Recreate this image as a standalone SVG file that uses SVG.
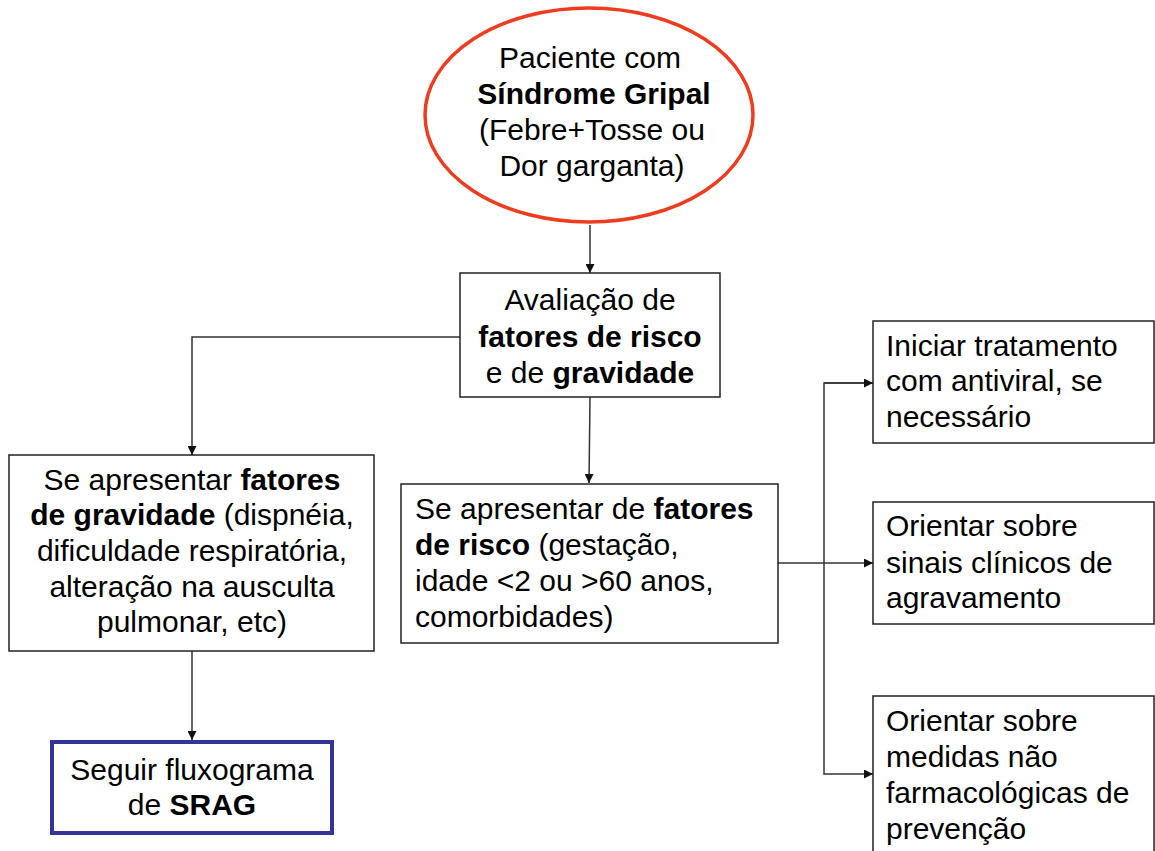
<svg xmlns="http://www.w3.org/2000/svg" width="1155" height="851" viewBox="0 0 1155 851">
<defs>
<style>
text{font-family:"Liberation Sans",Arial,sans-serif;font-size:30px;fill:#000}
.c{text-anchor:middle}
.b{font-weight:bold}
.box{fill:#fff;stroke:#222;stroke-width:1.5}
.con{fill:none;stroke:#333;stroke-width:1.5}
</style>
<marker id="ah" viewBox="0 0 10 10" refX="10" refY="5" markerWidth="9" markerHeight="9" markerUnits="userSpaceOnUse" orient="auto">
<path d="M0,0 L10,5 L0,10 z" fill="#111"/>
</marker>
</defs>
<rect width="1155" height="851" fill="#fff"/>
<g id="connectors">
<line class="con" x1="590" y1="225" x2="590" y2="273" marker-end="url(#ah)"/>
<polyline class="con" points="460,337 192,337 192,455" marker-end="url(#ah)"/>
<line class="con" x1="590" y1="397" x2="589" y2="483" marker-end="url(#ah)"/>
<line class="con" x1="192" y1="651" x2="192" y2="740" marker-end="url(#ah)"/>
<line class="con" x1="778" y1="563" x2="873" y2="563" marker-end="url(#ah)"/>
<polyline class="con" points="873,383 824,383 824,774 873,774" marker-end="url(#ah)"/>
<line class="con" x1="824" y1="383" x2="873" y2="383" marker-end="url(#ah)"/>
</g>
<g id="n-paciente">
<ellipse cx="589" cy="115" rx="164" ry="107" fill="#fff" stroke="#f03c1e" stroke-width="3.5"/>
<text class="c" x="590" y="68">Paciente com</text>
<text class="c b" x="594" y="104">Síndrome Gripal</text>
<text class="c" x="592" y="140">(Febre+Tosse ou</text>
<text class="c" x="592" y="176">Dor garganta)</text>
</g>
<g id="n-avaliacao">
<rect class="box" x="460" y="273" width="260" height="124"/>
<text class="c" x="590" y="310">Avaliação de</text>
<text class="c b" x="590" y="347">fatores de risco</text>
<text class="c" x="590" y="383">e de <tspan class="b">gravidade</tspan></text>
</g>
<g id="n-gravidade">
<rect class="box" x="9" y="455" width="365" height="196"/>
<text class="c" x="192" y="490">Se apresentar <tspan class="b">fatores</tspan></text>
<text class="c" x="192" y="525"><tspan class="b">de gravidade</tspan> (dispnéia,</text>
<text class="c" x="192" y="561">dificuldade respiratória,</text>
<text class="c" x="192" y="597">alteração na ausculta</text>
<text class="c" x="192" y="632">pulmonar, etc)</text>
</g>
<g id="n-risco">
<rect class="box" x="401" y="484" width="377" height="159"/>
<text x="415" y="519">Se apresentar de <tspan class="b">fatores</tspan></text>
<text x="415" y="555"><tspan class="b">de risco</tspan> (gestação,</text>
<text x="415" y="591">idade &lt;2 ou &gt;60 anos,</text>
<text x="415" y="627">comorbidades)</text>
</g>
<g id="n-srag">
<rect x="52" y="742" width="280" height="91" fill="#fff" stroke="#333399" stroke-width="4"/>
<text class="c" x="192" y="780">Seguir fluxograma</text>
<text class="c" x="192" y="815">de <tspan class="b">SRAG</tspan></text>
</g>
<g id="n-antiviral">
<rect class="box" x="873" y="321" width="281" height="122"/>
<text x="886" y="356">Iniciar tratamento</text>
<text x="886" y="391">com antiviral, se</text>
<text x="886" y="427">necessário</text>
</g>
<g id="n-sinais">
<rect class="box" x="873" y="502" width="281" height="122"/>
<text x="886" y="536">Orientar sobre</text>
<text x="886" y="573">sinais clínicos de</text>
<text x="886" y="608">agravamento</text>
</g>
<g id="n-medidas">
<rect class="box" x="873" y="696" width="281" height="170"/>
<text x="886" y="731">Orientar sobre</text>
<text x="886" y="767">medidas não</text>
<text x="886" y="803">farmacológicas de</text>
<text x="886" y="839">prevenção</text>
</g>
</svg>
